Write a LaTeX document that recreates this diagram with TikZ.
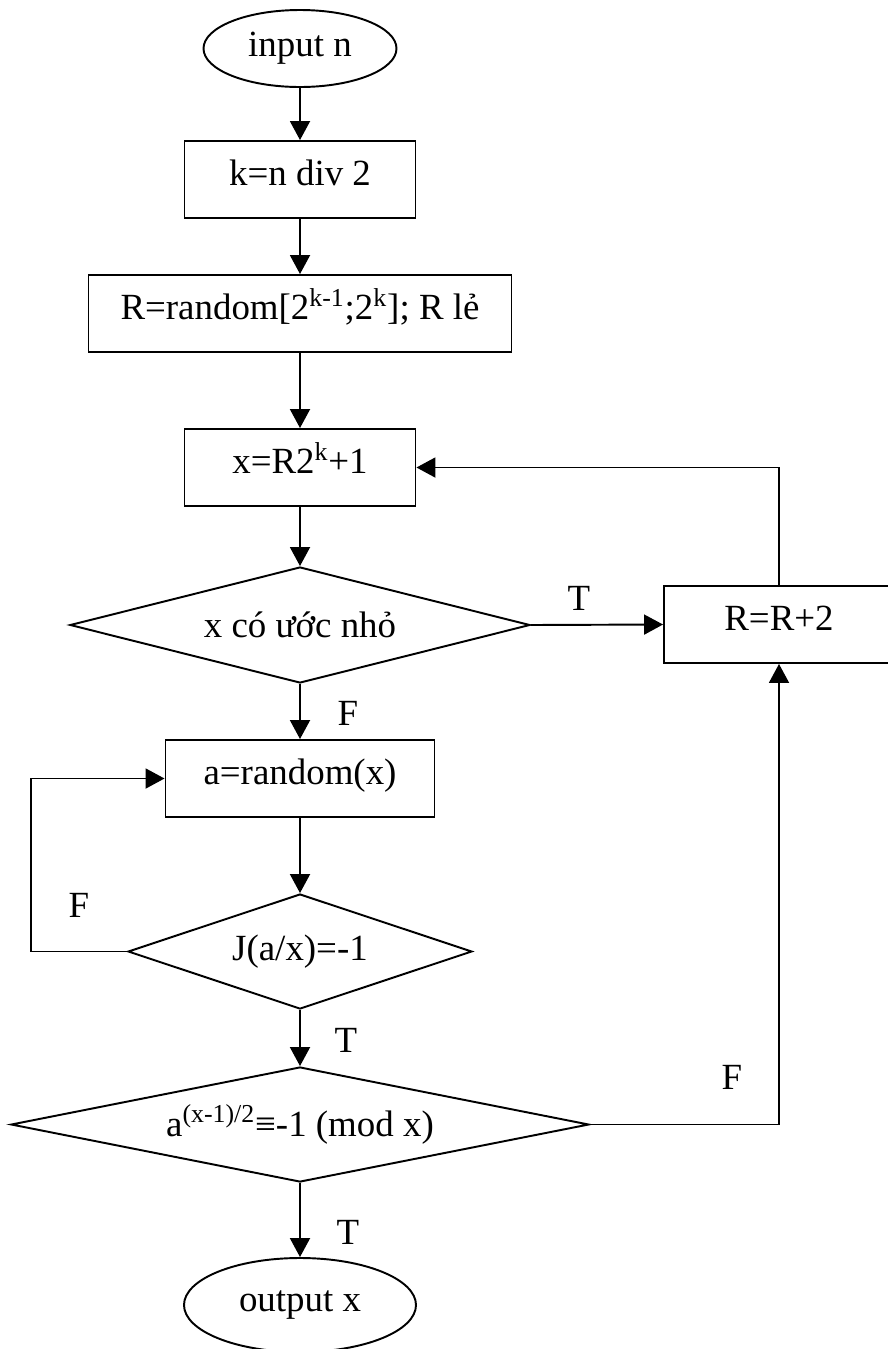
\documentclass[tikz,border=0pt]{standalone}
\usepackage{fontspec}
\setmainfont{Liberation Serif}
\usetikzlibrary{arrows.meta, shapes.geometric}

\begin{document}
\begin{tikzpicture}[
    txt/.style={font=\fontsize{21}{25}\selectfont, inner sep=0pt},
    procbox/.style={txt, draw, line width=1.1pt, rectangle, minimum height=1.54cm,
                    text height=0.52cm, text depth=0.28cm},
    decision/.style={txt, draw, line width=1.1pt, diamond, aspect=4},
    terminal/.style={txt, draw, line width=1.1pt, ellipse}]

\useasboundingbox (0, 0) rectangle (17.74, -26.98);

% blocks
\node[terminal, minimum width=3.86cm, minimum height=1.54cm] (inp) at (6, -0.97) {input n};
\node[procbox, minimum width=4.62cm] (kbox) at (6, -3.59) {k=n div 2};
\node[procbox, minimum width=8.46cm] (rbox) at (6, -6.27)
    {R=random[2\textsuperscript{k-1};2\textsuperscript{k}]; R lẻ};
\node[procbox, minimum width=4.62cm] (xbox) at (6, -9.35) {x=R2\textsuperscript{k}+1};
\node[decision, minimum width=9.2cm, minimum height=2.32cm] (d1) at (6, -12.5) {x có ước nhỏ};
\node[procbox, minimum width=4.6cm] (r2box) at (15.58, -12.49) {R=R+2};
\node[procbox, minimum width=5.38cm] (abox) at (6, -15.57) {a=random(x)};
\node[decision, minimum width=6.88cm, minimum height=2.3cm] (d2) at (6, -19.03) {J(a/x)=-1};
\node[decision, minimum width=11.56cm, minimum height=2.3cm] (d3) at (6, -22.49)
    {a\textsuperscript{(x-1)/2}≡-1 (mod x)};
\node[terminal, minimum width=4.64cm, minimum height=1.88cm] (out) at (6, -26.1) {output x};

% labels
\node[txt] (lT1) at (11.58, -11.96) {T};
\node[txt] (lF1) at (6.96, -14.26) {F};
\node[txt] (lF2) at (1.58, -18.10) {F};
\node[txt] (lT2) at (6.92, -20.80) {T};
\node[txt] (lF3) at (14.64, -21.54) {F};
\node[txt] (lT3) at (6.96, -24.64) {T};

\begin{scope}[>={Triangle[length=0.38cm, width=0.4cm]},
              every edge/.style={draw, line width=1.1pt}]
    \path [->] (inp) edge (kbox);
    \path [->] (kbox) edge (rbox);
    \path [->] (rbox) edge (xbox);
    \path [->] (xbox) edge (d1);
    \path [->] (d1.east) edge (r2box.west);
    \path [->] (d1) edge (abox);
    \path [->] (abox) edge (d2);
    \path [->] (d2) edge (d3);
    \path [->] (d3) edge (out);
    \draw [->, line width=1.1pt] (r2box.north) |- (xbox.east);
    \draw [->, line width=1.1pt] (d2.west) -- ++(-1.92, 0) |- (abox.west);
    \draw [->, line width=1.1pt] (d3.east) -| (r2box.south);
\end{scope}
\end{tikzpicture}
\end{document}
